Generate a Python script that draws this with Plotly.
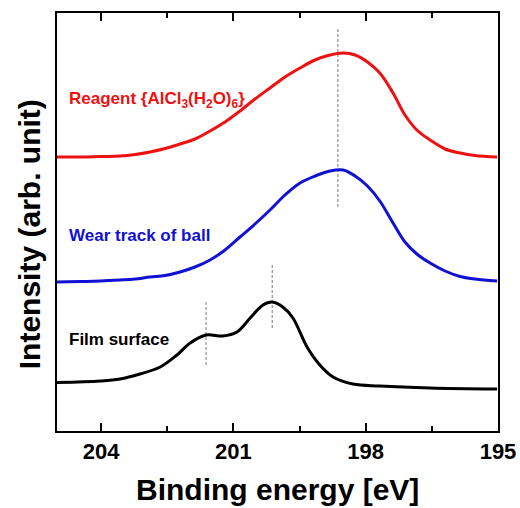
import plotly.graph_objects as go

# Binding energy (eV) grid shared by the two broad spectra
broad_energy = [205.00, 204.48, 204.02, 203.57, 203.23, 202.89, 202.55, 202.21, 201.87,
                201.53, 201.19, 200.85, 200.51, 200.17, 199.83, 199.49, 199.15, 198.81,
                198.51, 198.24, 197.96, 197.68, 197.38, 197.11, 196.84, 196.54, 196.20,
                195.86, 195.52, 195.02]

# Stacked intensities (arb. unit)
reagent_intensity = [274, 274, 274.5, 275, 276.5, 279, 282.5, 287, 292,
                     300, 309, 320, 332, 343, 354, 363, 371, 376,
                     378, 376, 369, 358, 338, 316, 301, 291, 282,
                     278, 275.5, 274]
ball_intensity = [149, 149.5, 150, 151, 152, 154, 155.5, 159, 164,
                  171, 181, 194, 207, 221, 236, 248, 255, 260,
                  261, 255, 245, 230, 208, 189, 177, 168, 160,
                  154.5, 152, 150]

film_energy = [205.00, 204.02, 203.57, 203.12, 202.66, 202.28, 201.98, 201.62, 201.24,
               200.92, 200.62, 200.33, 200.12, 199.88, 199.65, 199.33, 199.04, 198.74,
               198.29, 197.68, 196.54, 195.02]
film_intensity = [48.5, 50, 52, 57, 64, 76, 88, 96, 95,
                  99, 113, 126, 129, 124, 113, 84, 66, 54,
                  47, 45, 43, 42]

# Peak reference lines: energy, lower and upper intensity
peak_energy = [201.62, 200.12, 198.63]
peak_low = [66, 103, 224]
peak_high = [129, 167, 403]

series = [
    ("Reagent", broad_energy, reagent_intensity, "#ee1111"),
    ("Wear track of ball", broad_energy, ball_intensity, "#1111d4"),
    ("Film surface", film_energy, film_intensity, "#000000"),
]

label_text = ["Reagent {AlCl<sub>3</sub>(H<sub>2</sub>O)<sub>6</sub>}",
              "Wear track of ball", "Film surface"]
label_energy = [204.78, 204.78, 204.78]
label_intensity = [331, 196, 92]
label_color = ["#ee1111", "#1111d4", "#000000"]

FONT = "Liberation Sans, Arial, sans-serif"

fig = go.Figure()

for e, lo, hi in zip(peak_energy, peak_low, peak_high):
    fig.add_trace(go.Scatter(x=[e, e], y=[lo, hi], mode="lines",
                             line=dict(color="#777777", width=1, dash="3px,2px"),
                             showlegend=False, hoverinfo="skip"))

for name, x, y, color in series:
    fig.add_trace(go.Scatter(x=x, y=y, mode="lines", name=name,
                             line=dict(color=color, width=3, shape="spline", smoothing=1.0),
                             showlegend=False))

for t, e, i, c in zip(label_text, label_energy, label_intensity, label_color):
    fig.add_annotation(x=e, y=i, xref="x", yref="y", text=t, showarrow=False,
                       xanchor="left", yanchor="middle",
                       font=dict(family=FONT, size=17, color=c, weight="bold"))

fig.add_annotation(x=-0.02, y=0.47, xref="paper", yref="paper",
                   text="Intensity (arb. unit)", textangle=-90, showarrow=False,
                   xanchor="right", yanchor="middle",
                   font=dict(family=FONT, size=30, color="#000000", weight="bold"))
fig.add_annotation(x=0.5, y=-0.095, xref="paper", yref="paper",
                   text="Binding energy [eV]", showarrow=False,
                   xanchor="center", yanchor="top",
                   font=dict(family=FONT, size=30, color="#000000", weight="bold"))

fig.update_xaxes(range=[205, 195], tick0=195, dtick=3, ticks="inside", ticklen=8,
                 tickwidth=1.5, tickcolor="#000000",
                 minor=dict(dtick=1.5, tick0=195, ticks="inside", ticklen=5,
                            tickwidth=1.5, tickcolor="#000000"),
                 showline=True, linewidth=1.5, linecolor="#000000", mirror="ticks",
                 showgrid=False, zeroline=False, automargin=False,
                 tickfont=dict(family=FONT, size=22, color="#000000", weight="bold"))
fig.update_yaxes(range=[0, 418], showticklabels=False, ticks="",
                 showline=True, linewidth=1.5, linecolor="#000000", mirror=True,
                 showgrid=False, zeroline=False, automargin=False)

fig.update_layout(width=520, height=508,
                  margin=dict(l=57, r=22, t=13, b=77, autoexpand=False),
                  plot_bgcolor="#ffffff", paper_bgcolor="#ffffff",
                  showlegend=False)

fig.write_html("out.html")
